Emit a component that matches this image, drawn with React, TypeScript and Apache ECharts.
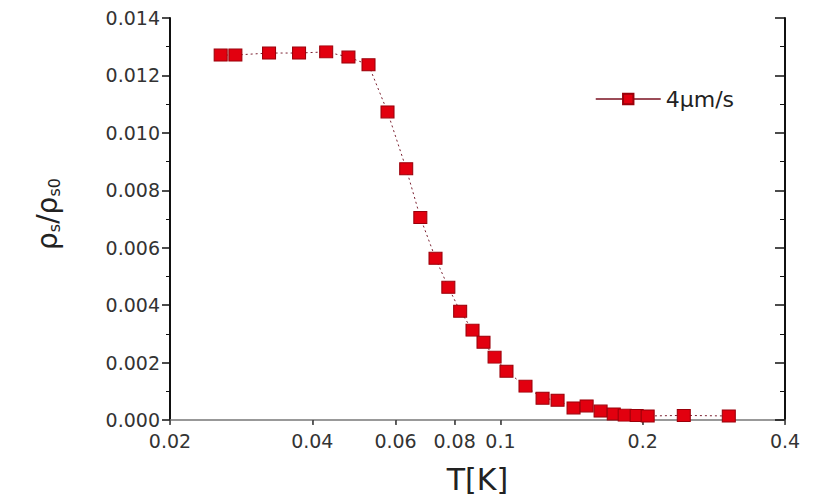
import React, { useEffect, useRef } from 'react';
import * as echarts from 'echarts';

const temperatureK = [
  0.0256, 0.0275, 0.0324, 0.0375, 0.0428, 0.0477, 0.0526, 0.0577, 0.0632, 0.0677,
  0.0729, 0.0776, 0.0822, 0.0873, 0.0921, 0.0972, 0.103, 0.113, 0.1228, 0.1321,
  0.1428, 0.1522, 0.1629, 0.1737, 0.1832, 0.1942, 0.2049, 0.2443, 0.3042,
];
const rhoRatio = [
  0.01271, 0.01271, 0.01278, 0.01278, 0.01282, 0.01264, 0.01237, 0.01073, 0.00875, 0.00705,
  0.00563, 0.00462, 0.00379, 0.00313, 0.00271, 0.00219, 0.0017, 0.00118, 0.00076, 0.00069,
  0.00042, 0.00049, 0.00031, 0.00021, 0.00017, 0.00016, 0.00014, 0.00016, 0.00014,
];
const xTickValues = [0.02, 0.04, 0.06, 0.08, 0.1, 0.2, 0.4];
const seriesName = '4μm/s';

export default function App() {
  const ref = useRef<HTMLDivElement>(null);
  useEffect(() => {
    const chart = echarts.init(ref.current!, null, { renderer: 'svg' });
    const font = 'DejaVu Sans';
    const data = temperatureK.map((t, i) => [t, rhoRatio[i]]);
    const xCommon = { type: 'log', logBase: 10, min: 0.02, max: 0.4, splitLine: { show: false } };
    const yCommon = { type: 'value', min: 0, max: 0.014, interval: 0.002, splitLine: { show: false } };
    chart.setOption({
      animation: false,
      backgroundColor: '#ffffff',
      grid: { left: 170, right: 29, top: 18, bottom: 78 },
      legend: {
        data: [seriesName],
        left: 590,
        top: 83,
        itemWidth: 65,
        itemHeight: 13,
        itemGap: 5,
        textStyle: { fontSize: 22, fontFamily: font, color: '#222' },
        lineStyle: { type: 'solid', color: '#7a1020', width: 1.5 },
      },
      xAxis: [
        {
          ...xCommon,
          position: 'bottom',
          axisLine: { show: true, lineStyle: { color: '#777', width: 1.5 } },
          axisTick: { show: true, customValues: xTickValues, length: 5, lineStyle: { color: '#333', width: 1.5 } },
          minorTick: { show: false },
          axisLabel: {
            customValues: xTickValues,
            formatter: (v: number) => String(+(+v).toPrecision(2)),
            fontSize: 19,
            fontFamily: font,
            color: '#333',
            margin: 11,
          },
          name: 'T[K]',
          nameLocation: 'middle',
          nameGap: 44,
          nameTextStyle: { fontSize: 30, fontFamily: font, color: '#222' },
        },
        {
          ...xCommon,
          position: 'top',
          axisLine: { show: false },
          axisTick: { show: true, customValues: xTickValues, inside: true, length: 4, lineStyle: { color: '#555' } },
          minorTick: { show: false },
          axisLabel: { show: false },
        },
      ],
      yAxis: [
        {
          ...yCommon,
          position: 'left',
          axisLine: { show: true, lineStyle: { color: '#111', width: 2 } },
          axisTick: { show: true, length: 8, lineStyle: { color: '#111', width: 1.5 } },
          minorTick: { show: true, splitNumber: 2, length: 4, lineStyle: { color: '#111' } },
          axisLabel: {
            formatter: (v: number) => v.toFixed(3),
            fontSize: 19,
            fontFamily: font,
            color: '#333',
            margin: 10,
          },
        },
        {
          ...yCommon,
          position: 'right',
          axisLine: { show: true, lineStyle: { color: '#111', width: 2 } },
          axisTick: { show: true, inside: true, length: 10, lineStyle: { color: '#111', width: 1.5 } },
          minorTick: { show: true, splitNumber: 2, length: 5, lineStyle: { color: '#111' } },
          axisLabel: { show: false },
        },
      ],
      graphic: [
        {
          type: 'text',
          x: 47,
          y: 214,
          rotation: Math.PI / 2,
          style: {
            text: '{a|ρ}{b|s}{a|/ρ}{b|s0}',
            align: 'center',
            verticalAlign: 'middle',
            rich: {
              a: { fontSize: 28, fontFamily: font, fill: '#222' },
              b: { fontSize: 16, fontFamily: font, fill: '#222', verticalAlign: 'bottom', padding: [14, 0, 0, 0] },
            },
          },
        },
      ],
      series: [
        {
          type: 'line',
          name: seriesName,
          data,
          xAxisIndex: 0,
          yAxisIndex: 0,
          symbol: 'rect',
          symbolSize: [13, 12],
          itemStyle: { color: '#e2000f', borderColor: '#9a000a', borderWidth: 1 },
          lineStyle: { color: '#7a2030', width: 1, type: [2, 3] },
        },
      ],
    });
    return () => chart.dispose();
  }, []);
  return (
    <div
      ref={ref}
      style={{ position: 'absolute', left: 0, top: 0, width: 814, height: 499, background: '#fff' }}
    />
  );
}
